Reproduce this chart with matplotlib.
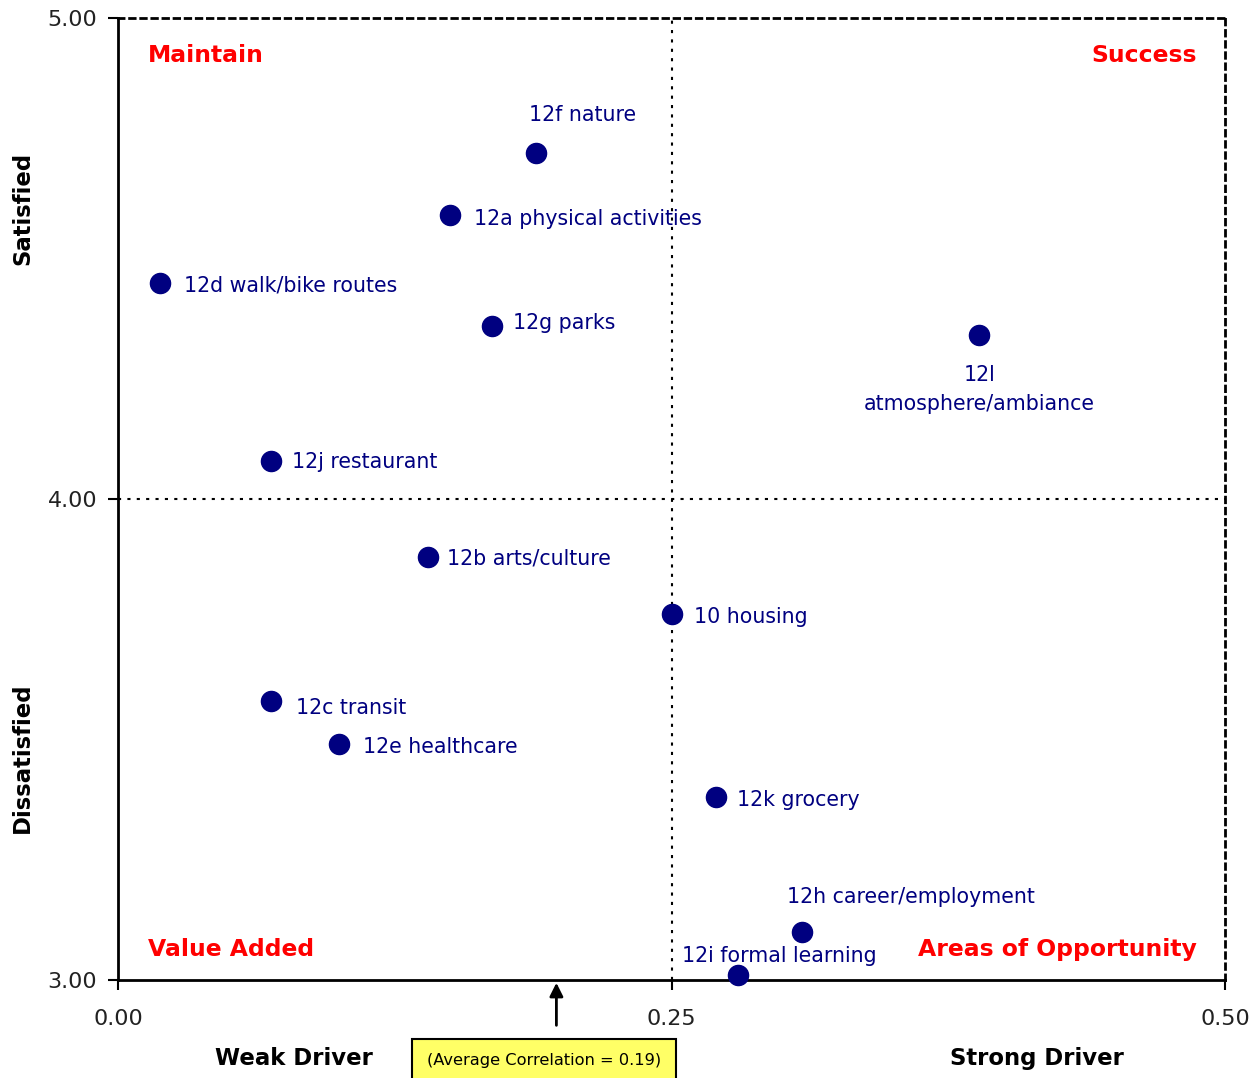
import matplotlib.pyplot as plt
from matplotlib.ticker import FixedLocator

# driver analysis: correlation (x) vs mean satisfaction (y)
items = ['12f nature', '12a physical activities', '12d walk/bike routes', '12g parks',
         '12l\natmosphere/ambiance', '12j restaurant', '12b arts/culture', '10 housing',
         '12c transit', '12e healthcare', '12k grocery', '12h career/employment',
         '12i formal learning']
correlation = [0.189, 0.150, 0.019, 0.169, 0.389, 0.069, 0.140, 0.250,
               0.069, 0.100, 0.270, 0.309, 0.280]
satisfaction = [4.72, 4.59, 4.45, 4.36, 4.34, 4.08, 3.88, 3.76,
                3.58, 3.49, 3.38, 3.10, 3.01]
avg_correlation = 0.19

# label offsets in points (dx, dy, ha, va)
label_pos = [(33, 27, 'center', 'center'), (17, -3, 'left', 'center'), (17, -2, 'left', 'center'),
             (15, 2, 'left', 'center'), (0, -21, 'center', 'top'), (15, -1, 'left', 'center'),
             (14, -1, 'left', 'center'), (16, -2, 'left', 'center'), (18, -5, 'left', 'center'),
             (17, -2, 'left', 'center'), (15, -2, 'left', 'center'), (-11, 25, 'left', 'center'),
             (-40, 14, 'left', 'center')]

navy = '#000080'

fig = plt.figure(figsize=(12.6, 10.78), dpi=100)
ax = fig.add_axes([0.0937, 0.0909, 0.8785, 0.8924])

ax.scatter(correlation, satisfaction, s=210, color=navy, zorder=3, clip_on=False)
for name, x, y, (dx, dy, ha, va) in zip(items, correlation, satisfaction, label_pos):
    ax.annotate(name, (x, y), xytext=(dx, dy), textcoords='offset points',
                ha=ha, va=va, color=navy, fontsize=14.8, linespacing=1.6, zorder=4)

ax.set_xlim(0, 0.5)
ax.set_ylim(3, 5)
ax.axvline(0.25, color='black', linestyle=(0, (1.5, 3)), linewidth=1.5)
ax.axhline(4.0, color='black', linestyle=(0, (1.5, 3)), linewidth=1.5)

ax.xaxis.set_major_locator(FixedLocator([0, 0.25, 0.5]))
ax.yaxis.set_major_locator(FixedLocator([3, 4, 5]))
ax.set_xticklabels(['0.00', '0.25', '0.50'])
ax.set_yticklabels(['3.00', '4.00', '5.00'])
ax.tick_params(direction='out', length=7, width=1.5, labelsize=16, colors='black',
               labelcolor='#222222')
ax.tick_params(axis='y', pad=8)
ax.tick_params(axis='x', pad=14)

ax.spines['left'].set_linewidth(2)
ax.spines['bottom'].set_linewidth(2)
for side in ['top', 'right']:
    ax.spines[side].set_linestyle((0, (2, 2)))
    ax.spines[side].set_linewidth(2)

# quadrant names
quad = dict(color='red', fontsize=16.9, fontweight='bold', transform=ax.transAxes)
ax.text(0.027, 0.961, 'Maintain', ha='left', va='center', **quad)
ax.text(0.975, 0.961, 'Success', ha='right', va='center', **quad)
ax.text(0.027, 0.032, 'Value Added', ha='left', va='center', **quad)
ax.text(0.975, 0.032, 'Areas of Opportunity', ha='right', va='center', **quad)

bold = dict(fontsize=16.4, fontweight='bold', ha='center', va='center')
fig.text(0.018, 0.807, 'Satisfied', rotation=90, **bold)
fig.text(0.018, 0.297, 'Dissatisfied', rotation=90, **bold)
fig.text(0.233, 0.018, 'Weak Driver', **bold)
fig.text(0.823, 0.018, 'Strong Driver', **bold)

ax.annotate('', xy=(avg_correlation + 0.008, 3.0), xycoords='data',
            xytext=(avg_correlation + 0.008, 2.90), textcoords='data',
            arrowprops=dict(arrowstyle='-|>', color='black', lw=2, mutation_scale=20),
            annotation_clip=False)
fig.text(0.4317, 0.016, '(Average Correlation = %.2f)' % avg_correlation, ha='center',
         va='center', fontsize=11.7,
         bbox=dict(boxstyle='square,pad=0.9', facecolor='#ffff66', edgecolor='black', lw=1.5))

fig.savefig('out.png', dpi=100)
